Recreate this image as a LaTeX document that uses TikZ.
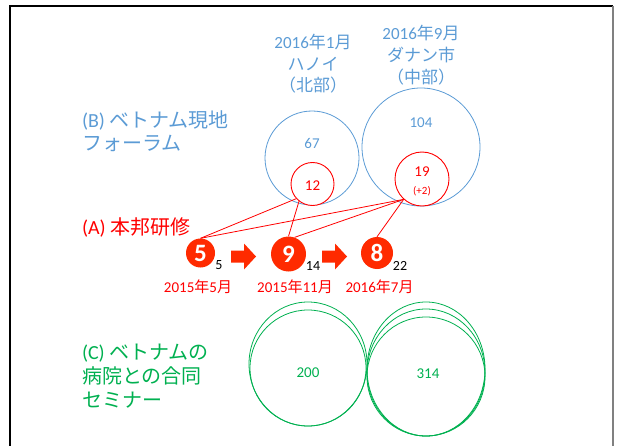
\documentclass[tikz,border=0pt]{standalone}
\usepackage{fontspec}
\setmainfont{Carlito}
\newfontfamily\jpf{Noto Sans CJK JP}
\newcommand\jtxt[1]{{\jpf #1}}
\definecolor{bl}{HTML}{5B9BD5}
\definecolor{gr}{HTML}{00B050}
\definecolor{rd}{HTML}{FF0000}
\definecolor{rf}{HTML}{FF2A00}
\begin{document}
\begin{tikzpicture}[x=1pt,y=-1pt,
  txt/.style={inner sep=0pt,outer sep=0pt},
  bigcirc/.style={circle,draw=bl,line width=0.8pt,inner sep=0pt},
  redcirc/.style={circle,draw=rd,fill=white,line width=0.9pt,inner sep=0pt},
  numcirc/.style={circle,fill=rf,inner sep=0pt,text=white,font=\fontsize{25}{25}\selectfont\bfseries},
  link/.style={draw=rd,line width=0.8pt},
  greenell/.style={draw=gr,line width=0.8pt},
  blockarrow/.style={fill=rf}]
\useasboundingbox (0,0) rectangle (617,446);
% frame
\draw[black,line width=1.3pt] (10,446) -- (10,6) -- (613,6);
\draw[gray,line width=1.6pt] (613,6) -- (613,446);

% top labels
\node[txt,text=bl,align=center,font=\fontsize{17}{21.5}\selectfont] (t1) at (313,64)
  {2016\jtxt{年}1\jtxt{月}\\\jtxt{ハノイ}\\\jtxt{（北部）}};
\node[txt,text=bl,align=center,font=\fontsize{17}{22}\selectfont] (t2) at (421,55.5)
  {2016\jtxt{年}9\jtxt{月}\\\jtxt{ダナン市}\\\jtxt{（中部）}};

% (B) forum circles
\node[bigcirc,minimum size=94pt] (b1) at (312,158) {};
\node[bigcirc,minimum size=118pt] (b2) at (421,147) {};
\node[txt,text=bl,font=\fontsize{15}{15}\selectfont] (n67) at (312,143) {67};
\node[txt,text=bl,font=\fontsize{15}{15}\selectfont] (n104) at (421,123) {104};
\node[redcirc,minimum size=43pt] (r1) at (312.5,184) {};
\node[redcirc,minimum size=54pt] (r2) at (422,179) {};
\node[txt,text=rd,font=\fontsize{15}{15}\selectfont] (n12) at (312.5,186) {12};
\node[txt,text=rd,font=\fontsize{15}{15}\selectfont] (n19) at (422,172) {19};
\node[txt,text=rd,font=\fontsize{11}{11}\selectfont] (np2) at (422,191) {(+2)};

% section labels
\node[txt,text=bl,anchor=west,align=left,font=\fontsize{20}{23}\selectfont] (lb) at (82,131.5)
  {(B) \jtxt{ベトナム現地}\\\jtxt{フォーラム}};
\node[txt,text=rd,anchor=west,font=\fontsize{20}{23}\selectfont] (la) at (82,227)
  {(A) \jtxt{本邦研修}};
\node[txt,text=gr,anchor=west,align=left,font=\fontsize{20}{24}\selectfont] (lc) at (82,376)
  {(C) \jtxt{ベトナムの}\\\jtxt{病院との合同}\\\jtxt{セミナー}};

% (A) numbered circles
\node[numcirc,minimum size=29pt] (c5) at (200.5,253) {5};
\node[numcirc,minimum size=35pt] (c9) at (288.5,254) {9};
\node[numcirc,minimum size=32pt] (c8) at (377,253) {8};
\node[txt,font=\fontsize{14}{14}\selectfont] (s5) at (219,265) {5};
\node[txt,font=\fontsize{14}{14}\selectfont] (s14) at (313,266) {14};
\node[txt,font=\fontsize{14}{14}\selectfont] (s22) at (400,266) {22};
\node[txt,text=rd,font=\fontsize{15}{15}\selectfont] (d1) at (198,287) {2015\jtxt{年}5\jtxt{月}};
\node[txt,text=rd,font=\fontsize{15}{15}\selectfont] (d2) at (295,287) {2015\jtxt{年}11\jtxt{月}};
\node[txt,text=rd,font=\fontsize{15}{15}\selectfont] (d3) at (379.5,287) {2016\jtxt{年}7\jtxt{月}};

% block arrows
\fill[blockarrow] (231,250.5) -- (244,250.5) -- (244,243.5) -- (256,256.5) -- (244,269.5) -- (244,262.5) -- (231,262.5) -- cycle;
\fill[blockarrow] (322,250.5) -- (335,250.5) -- (335,243.5) -- (347,256.5) -- (335,269.5) -- (335,262.5) -- (322,262.5) -- cycle;

% links
\draw[link] (c5.north) -- (r1.222);
\draw[link] (c5.north) -- (r2.228);
\draw[link] (c9.north) -- (r1.232);
\draw[link] (c9.70) -- (r2.228);
\draw[link] (c8.north) -- (r2.228);

% (C) seminar ellipses
\draw[greenell] (308,364) ellipse [x radius=59, y radius=62];
\draw[greenell] (308,368) ellipse [x radius=58, y radius=58];
\draw[greenell] (426,369) ellipse [x radius=59, y radius=67];
\draw[greenell] (426,372.5) ellipse [x radius=59, y radius=63.5];
\draw[greenell] (426,376.5) ellipse [x radius=59, y radius=59.5];
\node[txt,text=gr,font=\fontsize{15}{15}\selectfont] (n200) at (308,373) {200};
\node[txt,text=gr,font=\fontsize{15}{15}\selectfont] (n314) at (428,374) {314};
\end{tikzpicture}
\end{document}
